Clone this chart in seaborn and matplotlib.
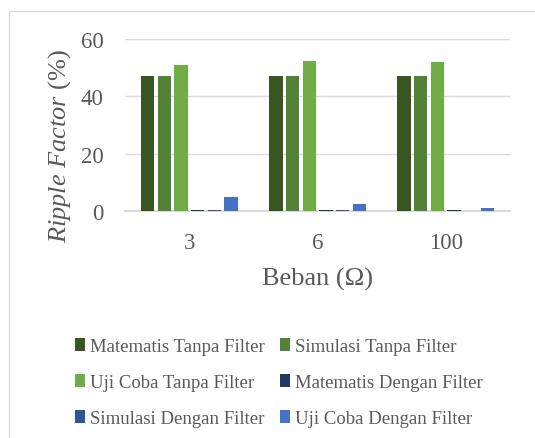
import matplotlib
matplotlib.use("Agg")
import matplotlib.pyplot as plt
import seaborn as sns
import pandas as pd
from matplotlib.lines import Line2D

sns.set_theme(style="white")
plt.rcParams['font.family'] = ['Liberation Serif', 'DejaVu Serif']
plt.rcParams['mathtext.fontset'] = 'custom'
plt.rcParams['mathtext.rm'] = 'Liberation Serif'
plt.rcParams['mathtext.it'] = 'Liberation Serif:italic'

categories = ["3", "6", "100"]
series = ["Matematis Tanpa Filter", "Simulasi Tanpa Filter", "Uji Coba Tanpa Filter",
          "Matematis Dengan Filter", "Simulasi Dengan Filter", "Uji Coba Dengan Filter"]
matematis_tanpa = [47, 47, 47]
simulasi_tanpa = [47, 47, 47]
ujicoba_tanpa = [51, 52.3, 52.1]
matematis_dengan = [0.5, 0.5, 0.5]
simulasi_dengan = [0.5, 0.5, 0.0]
ujicoba_dengan = [5.0, 2.5, 1.0]
colors = ["#375623", "#548235", "#70AD47", "#203864", "#2F5597", "#4472C4"]
text_color = "#595959"

values = [matematis_tanpa, simulasi_tanpa, ujicoba_tanpa,
          matematis_dengan, simulasi_dengan, ujicoba_dengan]
rows = []
for s, vals in zip(series, values):
    for c, v in zip(categories, vals):
        rows.append({"Beban": c, "Seri": s, "Nilai": v})
df = pd.DataFrame(rows)

fig = plt.figure(figsize=(5.35, 4.39), dpi=100)
ax = fig.add_axes([0.234, 0.517, 0.719, 0.392])
sns.barplot(data=df, x="Beban", y="Nilai", hue="Seri", order=categories,
            hue_order=series, palette=colors, saturation=1, width=0.78, gap=0.2,
            edgecolor="none", ax=ax, legend=True, zorder=3)

ax.set_ylim(0, 60)
ax.set_yticks([0, 20, 40, 60])
ax.grid(axis="y", color="#D9D9D9", linewidth=1.0, zorder=0)
ax.set_axisbelow(True)
for sp in ["top", "right", "left"]:
    ax.spines[sp].set_visible(False)
ax.spines["bottom"].set_color("#D9D9D9")
ax.spines["bottom"].set_linewidth(1.5)
ax.spines["bottom"].set_zorder(1)
ax.tick_params(axis="both", length=0, labelsize=16.5, labelcolor=text_color)
ax.tick_params(axis="y", pad=15.5)
ax.tick_params(axis="x", pad=15)
ax.set_xlabel("Beban (Ω)", fontsize=19, color=text_color, labelpad=10)
ax.set_ylabel(r"$\mathit{Ripple\ Factor}$ (%)", fontsize=19, color=text_color)
ax.yaxis.set_label_coords(-0.135, 0.384)

handles, labels = ax.get_legend_handles_labels()
ax.legend_.remove()
order = [0, 2, 4, 1, 3, 5]
fig.legend([handles[i] for i in order], [labels[i] for i in order],
           loc="upper left", bbox_to_anchor=(0.140, 0.228),
           ncol=2, frameon=False, fontsize=13.5, labelcolor=text_color,
           handlelength=0.55, handleheight=0.7, handletextpad=0.25,
           columnspacing=0.8, labelspacing=1.0, borderaxespad=0, borderpad=0)

fig.add_artist(Line2D([8.5/535, 1], [1-11.5/439, 1-11.5/439], transform=fig.transFigure,
                      color="#D9D9D9", linewidth=1.0))
fig.add_artist(Line2D([8.5/535, 8.5/535], [1-11.5/439, 0], transform=fig.transFigure,
                      color="#D9D9D9", linewidth=1.0))

fig.savefig("out.png", dpi=100)
